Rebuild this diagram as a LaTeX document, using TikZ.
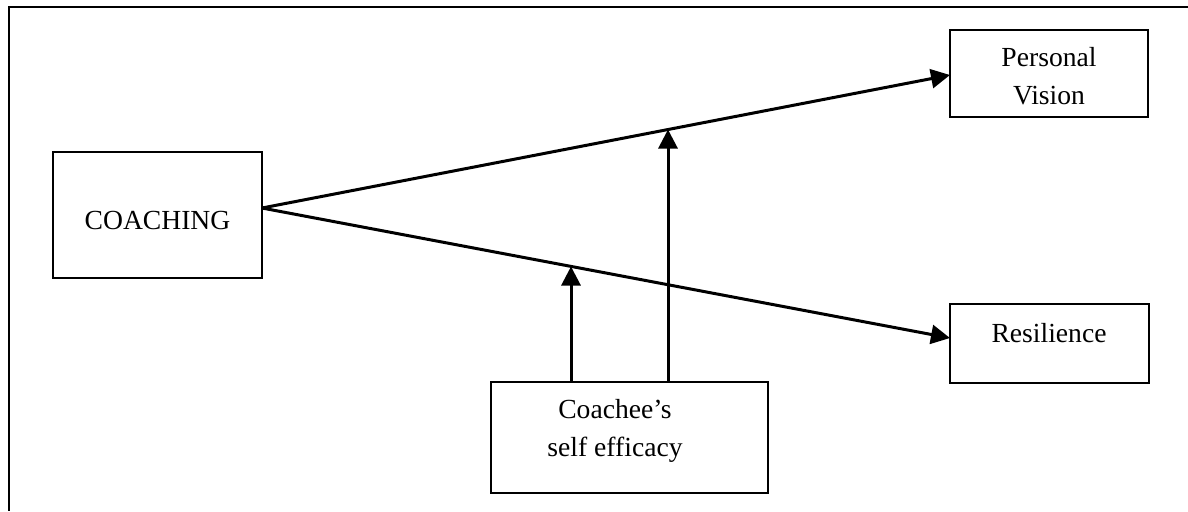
\documentclass[tikz,border=0pt]{standalone}
\usepackage{fontspec}
\setmainfont{Liberation Serif}
\usetikzlibrary{arrows.meta}
\begin{document}
\begin{tikzpicture}[x=0.5pt,y=-0.5pt,
  box/.style={draw,line width=1pt,rectangle,inner sep=0pt},
  txt/.style={font=\fontsize{13.8}{19}\selectfont,align=center,inner sep=0pt},
  link/.style={line width=1.5pt,-{Triangle[length=9.5pt,width=9.5pt]}},
  frameline/.style={line width=0.7pt}]
\useasboundingbox (0,0) rectangle (1188,511);
% frame
\coordinate (ftr) at (1188,7);
\coordinate (ftl) at (9,7);
\coordinate (fbl) at (9,511);
\draw[frameline] (ftr) -- (ftl) -- (fbl);
% boxes
\node[box,minimum width=104.5pt,minimum height=63pt] (coach) at (157.5,215) {};
\node[txt] (coachT) at (157.5,220) {COACHING};
\node[box,minimum width=99pt,minimum height=43.5pt] (pv) at (1049,73.5) {};
\node[txt] (pvT) at (1049,76) {Personal\\Vision};
\node[box,minimum width=99.5pt,minimum height=39.5pt] (res) at (1049.5,343.5) {};
\node[txt] (resT) at (1049,333) {Resilience};
\node[box,minimum width=138.5pt,minimum height=55.5pt] (se) at (629.75,437.5) {};
\node[txt] (seT) at (615,431) {Coachee’s\\self efficacy};
% connectors
\coordinate (start) at (262,208);
\coordinate (pvin) at (950,75);
\coordinate (resin) at (950,338);
\draw[link] (start) -- (pvin);
\draw[link] (start) -- (resin);
\coordinate (m1) at (571,266.5);
\coordinate (m2) at (668,129.5);
\coordinate (s1) at (571,382);
\coordinate (s2) at (668,382);
\draw[link] (s1) -- (m1);
\draw[link] (s2) -- (m2);
\end{tikzpicture}
\end{document}
